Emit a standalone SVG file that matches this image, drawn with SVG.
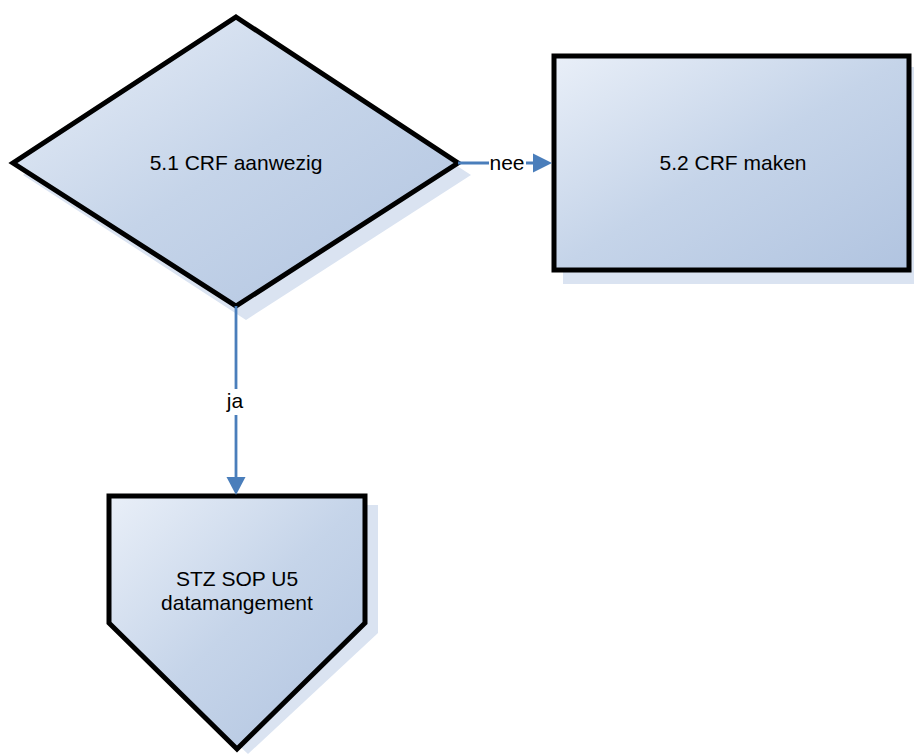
<svg xmlns="http://www.w3.org/2000/svg" width="914" height="754" viewBox="0 0 914 754">
<style>
.shape{fill:url(#g);stroke:#000;stroke-width:5;stroke-linejoin:miter}
.shadow{fill:#dae3f1}
.lbl{font-family:"Liberation Sans",Arial,sans-serif;font-size:21px;fill:#000;text-anchor:middle}
.conn{stroke:#4a7ebb;stroke-width:2.8;fill:none}
</style>
<defs>
<linearGradient id="g" x1="0" y1="0" x2="1" y2="1">
<stop offset="0" stop-color="#e9eff8"/>
<stop offset="0.5" stop-color="#c5d4e9"/>
<stop offset="1" stop-color="#b1c4e0"/>
</linearGradient>
</defs>
<rect width="914" height="754" fill="#fff"/>
<g id="n1">
<polygon class="shadow" points="246,29 471,175 246,320 23,175"/>
<polygon class="shape" points="236,17 458,163 236,306 13,163"/>
<text class="lbl" x="236" y="170">5.1 CRF aanwezig</text>
</g>
<g id="n2">
<rect class="shadow" x="563" y="67" width="351" height="217"/>
<rect class="shape" x="554" y="56" width="355" height="214"/>
<text class="lbl" x="733" y="170">5.2 CRF maken</text>
</g>
<g id="n3">
<polygon class="shadow" points="120,505 378,505 378,633 248,754 120,633"/>
<polygon class="shape" points="109,496 365,496 365,623 237,749 109,623"/>
<text class="lbl" x="237" y="586">STZ SOP U5</text>
<text class="lbl" x="237" y="610">datamangement</text>
</g>
<g id="connectors">
<line class="conn" x1="458" y1="163" x2="534" y2="163"/>
<polygon points="533,153.5 552,163 533,172.5" fill="#4a7ebb"/>
<rect x="489" y="150" width="37" height="24" fill="#fff"/>
<text class="lbl" x="507" y="170">nee</text>
<line class="conn" x1="236" y1="306" x2="236" y2="478"/>
<polygon points="226.5,477 236,495 245.5,477" fill="#4a7ebb"/>
<rect x="225" y="389" width="22" height="26" fill="#fff"/>
<text class="lbl" x="235" y="408">ja</text>
</g>
</svg>
